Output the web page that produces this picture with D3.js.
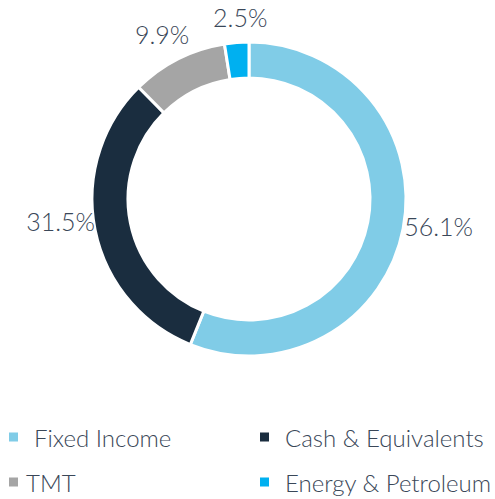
<!DOCTYPE html>
<html>
<head>
<meta charset="utf-8">
<script src="https://cdn.jsdelivr.net/npm/d3@7"></script>
<style>
  body { margin: 0; background: #fff; }
  text { font-family: Lato, "Open Sans", sans-serif; font-weight: 300; fill: #3a4758; }
</style>
</head>
<body>
<div id="chart"></div>
<script>
const categories = ["Fixed Income", "Cash & Equivalents", "TMT", "Energy & Petroleum"];
const values = [56.1, 31.5, 9.9, 2.5];
const labels = ["56.1%", "31.5%", "9.9%", "2.5%"];
const colors = ["#80cce7", "#1a2d3f", "#a5a5a5", "#00b0f0"];

// label nudges (layout only)
const nudge = [[5, -9], [-4, -15], [-2, 3], [6, 5]];

const dims = {width: 495, height: 499};
const center = {x: 249, y: 199};
const outerR = 157, innerR = 121, labelR = 188;

let svg = d3.select("#chart")
    .append("svg")
    .attr("width", dims.width)
    .attr("height", dims.height);

let pie = d3.pie().sort(null).value(d => d.value);
let arc = d3.arc().innerRadius(innerR).outerRadius(outerR);
let labelArc = d3.arc().innerRadius(labelR).outerRadius(labelR);

let data = categories.map((c, i) => ({name: c, value: values[i], label: labels[i], color: colors[i]}));
let arcs = pie(data);

let g = svg.append("g").attr("transform", `translate(${center.x},${center.y})`);

g.selectAll("path")
    .data(arcs)
    .enter()
    .append("path")
    .attr("d", arc)
    .attr("fill", d => d.data.color)
    .attr("stroke", "#fff")
    .attr("stroke-width", 3);

g.selectAll("text")
    .data(arcs)
    .enter()
    .append("text")
    .attr("x", (d, i) => labelArc.centroid(d)[0] + nudge[i][0])
    .attr("y", (d, i) => labelArc.centroid(d)[1] + nudge[i][1])
    .attr("text-anchor", "middle")
    .attr("dominant-baseline", "central")
    .style("font-size", "25px")
    .text(d => d.data.label);

// legend, 2 columns
let col = d3.scalePoint().domain([0, 1]).range([9, 260]);
let row = d3.scalePoint().domain([0, 1]).range([437, 482]);

let legend = svg.selectAll(".legend")
    .data(data)
    .enter()
    .append("g")
    .attr("class", "legend")
    .attr("transform", (d, i) => `translate(${col(i % 2)},${row(Math.floor(i / 2))})`);

legend.append("rect")
    .attr("x", 0)
    .attr("y", -4.5)
    .attr("width", 9)
    .attr("height", 9)
    .attr("fill", d => d.color);

legend.append("text")
    .attr("x", (d, i) => i === 2 ? 17 : 25)
    .attr("y", 0)
    .attr("dominant-baseline", "central")
    .style("font-size", "24px")
    .text(d => d.name);
</script>
</body>
</html>
